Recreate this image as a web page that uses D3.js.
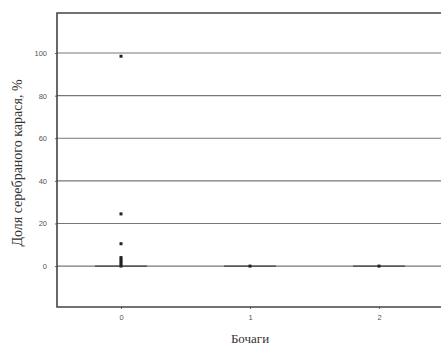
<!DOCTYPE html>
<html><head><meta charset="utf-8">
<script src="https://cdn.jsdelivr.net/npm/d3@7"></script>
<style>body{margin:0;background:#fff}svg{display:block}</style>
</head><body>
<script>
const categories = ["0", "1", "2"];
const pointCats = ["0","0","0","0","0","0","0","0","1","2"];
const pointVals = [98.5, 24.5, 10.5, 4, 3, 2, 1, 0, 0, 0];
const medians = [0, 0, 0];
const yTicks = [0, 20, 40, 60, 80, 100];
const yLabel = "Доля серебраного карася, %";
const xLabel = "Бочаги";

const W = 441, H = 349;
const svg = d3.select("body").append("svg").attr("width", W).attr("height", H);
const L = 57, T = 13, B = 307, R = 444;
const y = d3.scaleLinear().domain([-19.2, 118.8]).range([B, T]);
const x = d3.scalePoint().domain(categories).range([121, 379]);

// gridlines
svg.append("g").selectAll("line").data(yTicks).join("line")
  .attr("x1", L).attr("x2", R).attr("y1", d => y(d)).attr("y2", d => y(d))
  .attr("stroke", "#777").attr("stroke-width", 1.1);

// axes
const ya = svg.append("g").attr("transform", `translate(${L},0)`)
  .call(d3.axisLeft(y).tickValues(yTicks).tickSize(2).tickPadding(8));
ya.select(".domain").remove();
ya.selectAll("line").attr("stroke", "#666");
ya.selectAll("text").attr("font-family", "Liberation Sans, Arial").attr("font-size", 7.5).attr("fill", "#555");

const xa = svg.append("g").attr("transform", `translate(0,${B})`)
  .call(d3.axisBottom(x).tickSize(2).tickPadding(6));
xa.select(".domain").remove();
xa.selectAll("line").attr("stroke", "#666");
xa.selectAll("text").attr("font-family", "Liberation Sans, Arial").attr("font-size", 7.5).attr("fill", "#555");

// frame
svg.append("path").attr("d", `M${R},${T}H${L}V${B}H${R}`)
  .attr("fill", "none").attr("stroke", "#444").attr("stroke-width", 1.6);

// medians
svg.append("g").selectAll("line").data(categories).join("line")
  .attr("x1", d => x(d) - 26).attr("x2", d => x(d) + 26)
  .attr("y1", (d, i) => y(medians[i])).attr("y2", (d, i) => y(medians[i]))
  .attr("stroke", "#444").attr("stroke-width", 1.4);

// points
svg.append("g").selectAll("rect").data(pointVals).join("rect")
  .attr("x", (d, i) => x(pointCats[i]) - 1.5).attr("y", d => y(d) - 1.5)
  .attr("width", 3).attr("height", 3).attr("fill", "#222");

// labels
svg.append("text").attr("transform", `translate(22,${(T + B) / 2 + 3}) rotate(-90)`)
  .attr("text-anchor", "middle").attr("font-family", "Liberation Serif, Times New Roman")
  .attr("font-size", 14).attr("fill", "#333").text(yLabel);
svg.append("text").attr("x", 250).attr("y", 343).attr("text-anchor", "middle")
  .attr("font-family", "Liberation Serif, Times New Roman")
  .attr("font-size", 13).attr("fill", "#333").text(xLabel);
</script>
</body></html>
